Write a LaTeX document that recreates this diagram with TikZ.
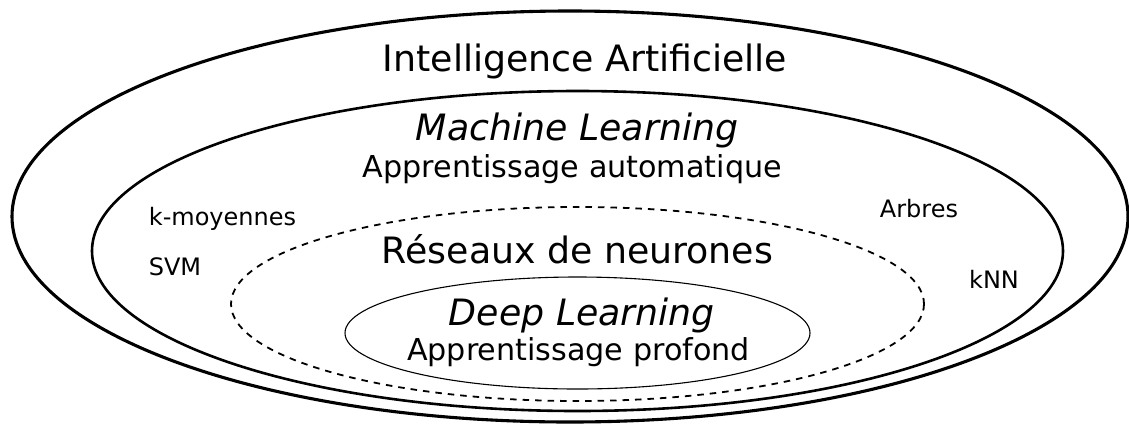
\documentclass[tikz,border=0pt]{standalone}
\usepackage{fontspec}
\setmainfont{DejaVu Sans}
\begin{document}
\begin{tikzpicture}[x=1pt,y=-1pt,
  big/.style={font=\fontsize{36.3}{40}\selectfont, inner sep=0pt, anchor=base},
  mid/.style={font=\fontsize{30.2}{34}\selectfont, inner sep=0pt, anchor=base},
  small/.style={font=\fontsize{24}{28}\selectfont, inner sep=0pt, anchor=base},
  outerring/.style={line width=3.1pt},
  mlring/.style={line width=2.6pt},
  nnring/.style={line width=1.8pt, dash pattern=on 6.5pt off 6pt},
  dlring/.style={line width=1.1pt}]
\useasboundingbox (0,0) rectangle (1129,424);
% ellipses
\draw[outerring] (570,216.5) ellipse [x radius=558, y radius=205.5];
\draw[mlring] (577.5,251) ellipse [x radius=485.5, y radius=160];
\draw[nnring] (577.5,304) ellipse [x radius=346.5, y radius=97];
\draw[dlring] (577.5,333) ellipse [x radius=232.5, y radius=56];
% texts
\node[big] (ia) at (585,71) {Intelligence Artificielle};
\node[big] (ml) at (577,140) {\itshape Machine Learning};
\node[mid] (aa) at (572.5,177) {Apprentissage automatique};
\node[big] (rn) at (577.5,263) {Réseaux de neurones};
\node[big] (dl) at (582,325) {\itshape Deep Learning};
\node[mid] (ap) at (578.5,360) {Apprentissage profond};
\node[small] (km) at (222.5,225) {k-moyennes};
\node[small] (svm) at (175,275) {SVM};
\node[small] (ar) at (919,217) {Arbres};
\node[small] (knn) at (994,288) {kNN};
\end{tikzpicture}
\end{document}
